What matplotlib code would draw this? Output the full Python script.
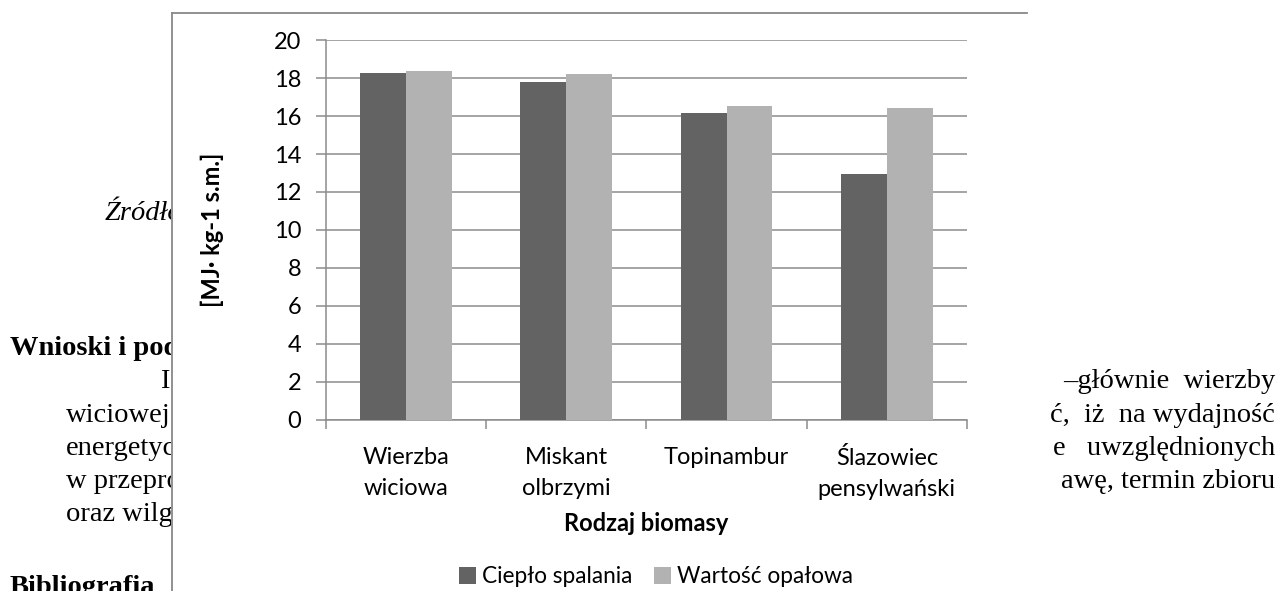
import numpy as np
import matplotlib
matplotlib.use('Agg')
import matplotlib.pyplot as plt
from matplotlib.patches import Rectangle
from matplotlib.lines import Line2D

# dane
kategorie = ['Wierzba\nwiciowa', 'Miskant\nolbrzymi', 'Topinambur', 'Ślazowiec\npensylwański']
cieplo_spalania = [18.3, 17.8, 16.15, 12.95]
wartosc_opalowa = [18.4, 18.2, 16.55, 16.45]
yticks = list(range(0, 21, 2))

W, H = 1280, 591
def fx(x):
    return x / W
def fy(y):
    return 1 - y / H

plt.rcParams['font.family'] = ['Lato', 'DejaVu Sans']
serif = ['Liberation Serif', 'DejaVu Serif']

fig = plt.figure(figsize=(12.8, 5.91), dpi=100)
fig.patch.set_facecolor('white')

# tekst dokumentu w tle (przyciety przez ramke wykresu)
clip_l = Rectangle((0, 0), fx(171), 1, transform=fig.transFigure)
clip_r = Rectangle((fx(1046), 0), 1, 1, transform=fig.transFigure)
doc = dict(fontsize=20.5, family=serif, va='baseline', zorder=1)
lewe = [
    (105, 220, 'Źródło', dict(style='italic')),
    (10, 355, 'Wnioski i pod', dict(weight='bold')),
    (160, 388, 'I', {}),
    (66, 422, 'wiciowej', {}),
    (66, 455, 'energetyc', {}),
    (66, 488, 'w przepro', {}),
    (66, 521, 'oraz wilgo', {}),
    (10, 594, 'Bibliografia', dict(weight='bold')),
]
for xp, yp, s, kw in lewe:
    t = fig.text(fx(xp), fy(yp), s, **doc, **kw)
    t.set_clip_path(clip_l)
prawe = [
    (388, '–głównie  wierzby'),
    (422, 'ć,  iż  na wydajność'),
    (455, 'e   uwzględnionych'),
    (488, 'awę, termin zbioru'),
]
for yp, s in prawe:
    t = fig.text(fx(1275), fy(yp), s, ha='right', **doc)
    t.set_clip_path(clip_r)

# biale tlo wykresu + ramka
fig.patches.append(Rectangle((fx(173), 0), fx(1046) - fx(173), fy(13), transform=fig.transFigure,
                             facecolor='white', edgecolor='none', zorder=2))
fig.lines.append(Line2D([fx(172), fx(172)], [0, fy(13)], transform=fig.transFigure,
                        color='#888888', lw=1.3, zorder=4))
fig.lines.append(Line2D([fx(172), fx(1027)], [fy(13), fy(13)], transform=fig.transFigure,
                        color='#888888', lw=1.3, zorder=4))

ax = fig.add_axes([fx(325.7), fy(419.5), fx(967) - fx(325.7), fy(40.3) - fy(419.5)])
ax.set_zorder(3)
ax.patch.set_alpha(0)

x = np.arange(len(kategorie))
w = 0.2857
ax.bar(x - w / 2, cieplo_spalania, w, color='#636363', label='Ciepło spalania', zorder=3)
ax.bar(x + w / 2, wartosc_opalowa, w, color='#b2b2b2', label='Wartość opałowa', zorder=3)

grey = '#8c8c8c'
fs = 17
ax.set_ylim(0, 20)
ax.set_xlim(-0.5, len(kategorie) - 0.5)
ax.set_yticks(yticks)
ax.yaxis.grid(True, color=grey, lw=1.1)
ax.set_axisbelow(True)
for s in ['top', 'right']:
    ax.spines[s].set_visible(False)
for s in ['left', 'bottom']:
    ax.spines[s].set_color(grey)
    ax.spines[s].set_linewidth(1.1)

ax.tick_params(axis='y', length=7.5, width=1.1, color=grey, pad=10, labelsize=fs)
ax.set_xticks(x)
ax.set_xticklabels(kategorie, fontsize=fs, linespacing=1.6)
ax.set_xticks(np.arange(-0.5, len(kategorie)), minor=True)
ax.tick_params(axis='x', which='major', length=0, pad=19.5)
ax.tick_params(axis='x', which='minor', length=6.5, width=1.1, color=grey)

ax.set_ylabel('[MJ· kg-1 s.m.]', fontsize=fs, weight='bold')
ax.yaxis.set_label_coords(-0.1586, 0.5)
ax.set_xlabel('Rodzaj biomasy', fontsize=fs, weight='bold')
ax.xaxis.set_label_coords(0.5, -0.273)
ax.xaxis.label.set_va('center')

leg = ax.legend(loc='center', bbox_to_anchor=(0.515, -0.415), ncol=2, frameon=False, fontsize=16.3,
                handlelength=0.75, handleheight=0.78, handletextpad=0.25, columnspacing=0.95)

fig.savefig('out.png', dpi=100)
